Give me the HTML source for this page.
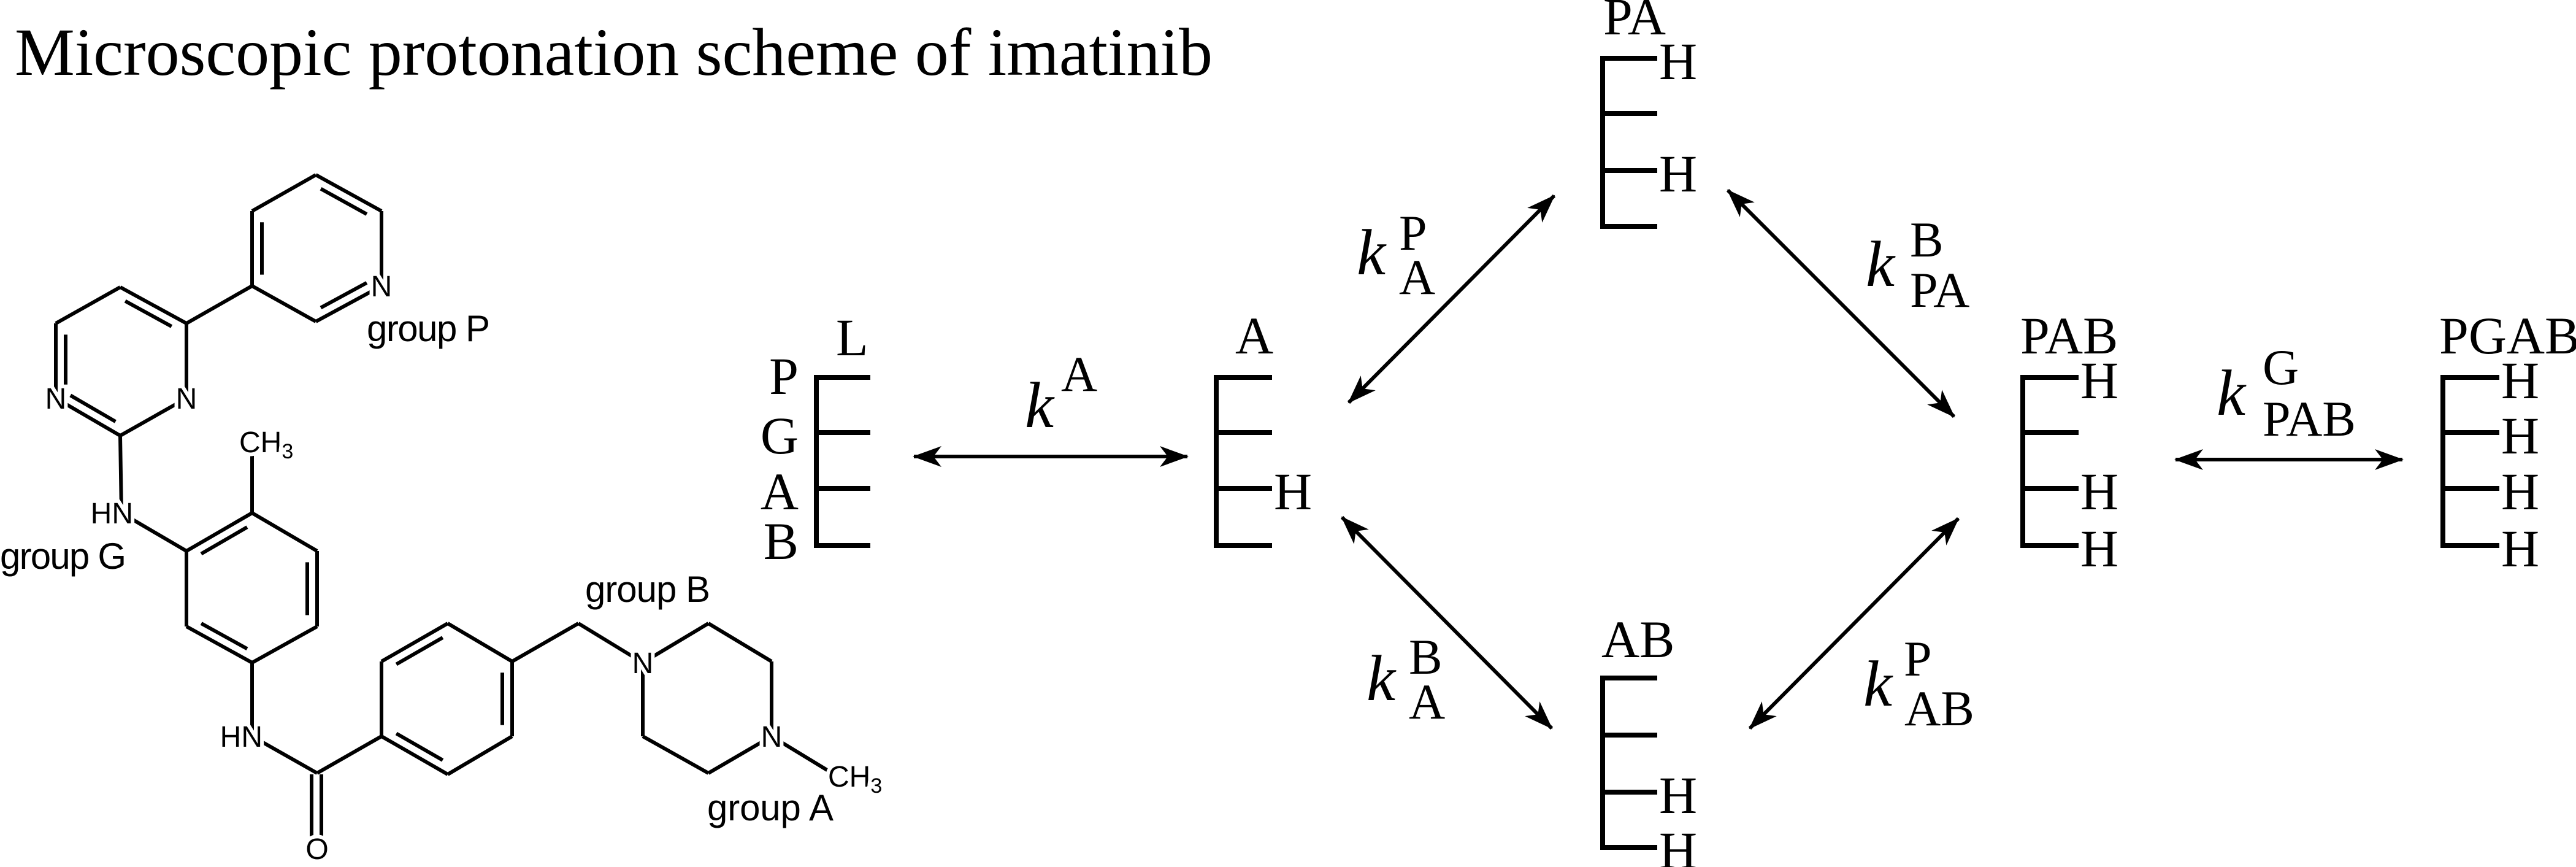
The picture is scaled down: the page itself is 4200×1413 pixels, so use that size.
<!DOCTYPE html>
<html><head><meta charset="utf-8"><style>
html,body{margin:0;padding:0;background:#fff;}
svg{display:block;}
.serif{font-family:"Liberation Serif","Times New Roman",serif;fill:#000;}
.sans{font-family:"Liberation Sans",sans-serif;fill:#000;}
.atom{font-family:"Liberation Sans",sans-serif;font-size:48px;fill:#000;stroke:#fff;stroke-width:12px;paint-order:stroke;}
</style></head><body>
<svg id="fig" xmlns="http://www.w3.org/2000/svg" width="4200" height="1413" viewBox="0 0 4200 1413">
<defs>
<marker id="ah" markerUnits="userSpaceOnUse" markerWidth="60" markerHeight="44" refX="0" refY="0" viewBox="-48 -22 52 44" orient="auto-start-reverse">
<path d="M2,0 L-45,-17 L-32,0 L-45,17 Z" fill="#000"/>
</marker>
</defs>
<text class="serif" x="24" y="122" font-size="110" textLength="1953">Microscopic protonation scheme of imatinib</text>
<g id="mol" stroke="#000" stroke-width="6" fill="none"></g>
<g id="labels">
<text class="atom" x="622" y="483" text-anchor="middle">N</text>
<text class="atom" x="304" y="666" text-anchor="middle">N</text>
<text class="atom" x="91" y="666" text-anchor="middle">N</text>
<text class="atom" x="217" y="853" text-anchor="end">HN</text>
<text class="atom" x="428" y="1217" text-anchor="end">HN</text>
<text class="atom" x="517" y="1400" text-anchor="middle">O</text>
<text class="atom" x="1048" y="1097" text-anchor="middle">N</text>
<text class="atom" x="1258" y="1217" text-anchor="middle">N</text>
<text class="atom" x="390" y="737">CH<tspan font-size="34" dy="10">3</tspan></text>
<text class="atom" x="1350" y="1282">CH<tspan font-size="34" dy="10">3</tspan></text>
</g>
<text class="sans" x="598" y="556" font-size="60" textLength="201">group P</text>
<text class="sans" x="0" y="927" font-size="60" textLength="206">group G</text>
<text class="sans" x="954" y="981" font-size="60" textLength="204">group B</text>
<text class="sans" x="1153" y="1337" font-size="60" textLength="206">group A</text>
<g id="species" stroke="#000" stroke-width="8" fill="none"></g>
<g id="arrows" stroke="#000" stroke-width="6" fill="none"></g>
<g id="stext"></g>
</svg>
<script>
const NS="http://www.w3.org/2000/svg";
const mol=document.getElementById('mol');
function ln(g,x1,y1,x2,y2,name){const l=document.createElementNS(NS,'line');l.setAttribute('x1',x1);l.setAttribute('y1',y1);l.setAttribute('x2',x2);l.setAttribute('y2',y2);


g.appendChild(l);return l;}
function ring(v,doubles){let cx=0,cy=0;v.forEach(p=>{cx+=p[0];cy+=p[1];});cx/=v.length;cy/=v.length;
for(let i=0;i<v.length;i++){const a=v[i],b=v[(i+1)%v.length];ln(mol,a[0],a[1],b[0],b[1],'ring-bond');
if(doubles.includes(i)){const mx=(a[0]+b[0])/2,my=(a[1]+b[1])/2;let dx=cx-mx,dy=cy-my;const d=Math.hypot(dx,dy);dx=dx/d*16;dy=dy/d*16;
const s=0.15;const ax=a[0]+(b[0]-a[0])*s+dx,ay=a[1]+(b[1]-a[1])*s+dy,bx=b[0]-(b[0]-a[0])*s+dx,by=b[1]-(b[1]-a[1])*s+dy;ln(mol,ax,ay,bx,by,'double-bond');}}}
ring([[515,285],[622,344],[622,466],[515,524],[411,466],[411,344]],[0,2,4]);
ring([[196,468],[304,527],[304,649],[196,710],[91,649],[91,527]],[0,3,4]);
ring([[304,898],[411,836],[517,898],[517,1021],[411,1080],[304,1021]],[0,2,4]);
ring([[622,1078],[730,1016],[835,1078],[835,1200],[730,1262],[622,1200]],[0,2,4]);
ring([[1048,1080],[1155,1016],[1258,1078],[1258,1200],[1155,1260],[1048,1200]],[]);
[[304,527,411,466],[196,710,198,836],[198,836,304,898],[411,836,411,737],[411,1080,411,1200],[411,1200,517,1260],[517,1260,622,1200],[835,1078,943,1016],[943,1016,1048,1080],[1258,1200,1360,1262],[508,1262,508,1370],[524,1262,524,1370]].forEach(b=>ln(mol,b[0],b[1],b[2],b[3],'bond'));

const sp=document.getElementById('species'),st=document.getElementById('stext');
function txt(x,y,s,size,anchor,italic,name){const t=document.createElementNS(NS,'text');t.setAttribute('x',x);t.setAttribute('y',y);t.setAttribute('class','serif');t.setAttribute('font-size',size);if(anchor)t.setAttribute('text-anchor',anchor);if(italic)t.setAttribute('font-style','italic');t.textContent=s;


st.appendChild(t);return t;}
function species(x,ys,len,label,hs,name){
const p=document.createElementNS(NS,'path');let d='M'+(x+len)+','+ys[0]+' L'+x+','+ys[0]+' L'+x+','+ys[3]+' L'+(x+len)+','+ys[3]+' M'+x+','+ys[1]+' L'+(x+len)+','+ys[1]+' M'+x+','+ys[2]+' L'+(x+len)+','+ys[2];p.setAttribute('d',d);


sp.appendChild(p);
txt(label[0],label[1],label[2],86,null,false,name+'-label');
hs.forEach((h,i)=>{if(h)txt(x+len+3,ys[i]+34,'H',86,null,false,name+'-h');});}
species(1331,[615,705,796,889],88,[1363,579,'L'],[0,0,0,0],'species-l');
txt(1302,642,'P',86,'end',false,'site-p');txt(1302,739,'G',86,'end',false,'site-g');txt(1302,830,'A',86,'end',false,'site-a');txt(1302,911,'B',86,'end',false,'site-b');
species(1983,[615,705,796,889],91,[2014,576,'A'],[0,0,1,0],'species-a');
species(2613,[95,185,278,369],89,[2614,56,'PA'],[1,0,1,0],'species-pa');
species(2613,[1105,1198,1291,1381],89,[2611,1071,'AB'],[0,0,1,1],'species-ab');
species(3298,[615,705,796,889],91,[3294,576,'PAB'],[1,0,1,1],'species-pab');
species(3983,[615,705,796,889],92,[3977,576,'PGAB'],[1,1,1,1],'species-pgab');

const ar=document.getElementById('arrows');
function arrow(x1,y1,x2,y2,name){const l=ln(ar,x1,y1,x2,y2,name);l.setAttribute('marker-start','url(#ah)');l.setAttribute('marker-end','url(#ah)');}
arrow(1490,744,1936,744,'arrow-k-a');
arrow(2199,656,2534,319,'arrow-k-a-p');
arrow(2188,843,2530,1187,'arrow-k-a-b');
arrow(2817,310,3186,679,'arrow-k-pa-b');
arrow(3193,845,2853,1187,'arrow-k-ab-p');
arrow(3547,749,3917,749,'arrow-k-pab-g');
function k(x,y,sup,sx,sy,sub,bx,by,name){txt(x,y,'k',106,null,true,name+'-k');txt(sx,sy,sup,82,null,false,name+'-sup');if(sub)txt(bx,by,sub,82,null,false,name+'-sub');}
k(1671,696,'A',1730,637,null,0,0,'rate-k-a');
k(2212,447,'P',2281,407,'A',2281,479,'rate-k-a-p');
k(2228,1141,'B',2297,1098,'A',2297,1171,'rate-k-a-b');
k(3042,466,'B',3114,418,'PA',3114,500,'rate-k-pa-b');
k(3038,1150,'P',3104,1101,'AB',3105,1182,'rate-k-ab-p');
k(3614,676,'G',3689,626,'PAB',3689,710,'rate-k-pab-g');
</script>
</body></html>
